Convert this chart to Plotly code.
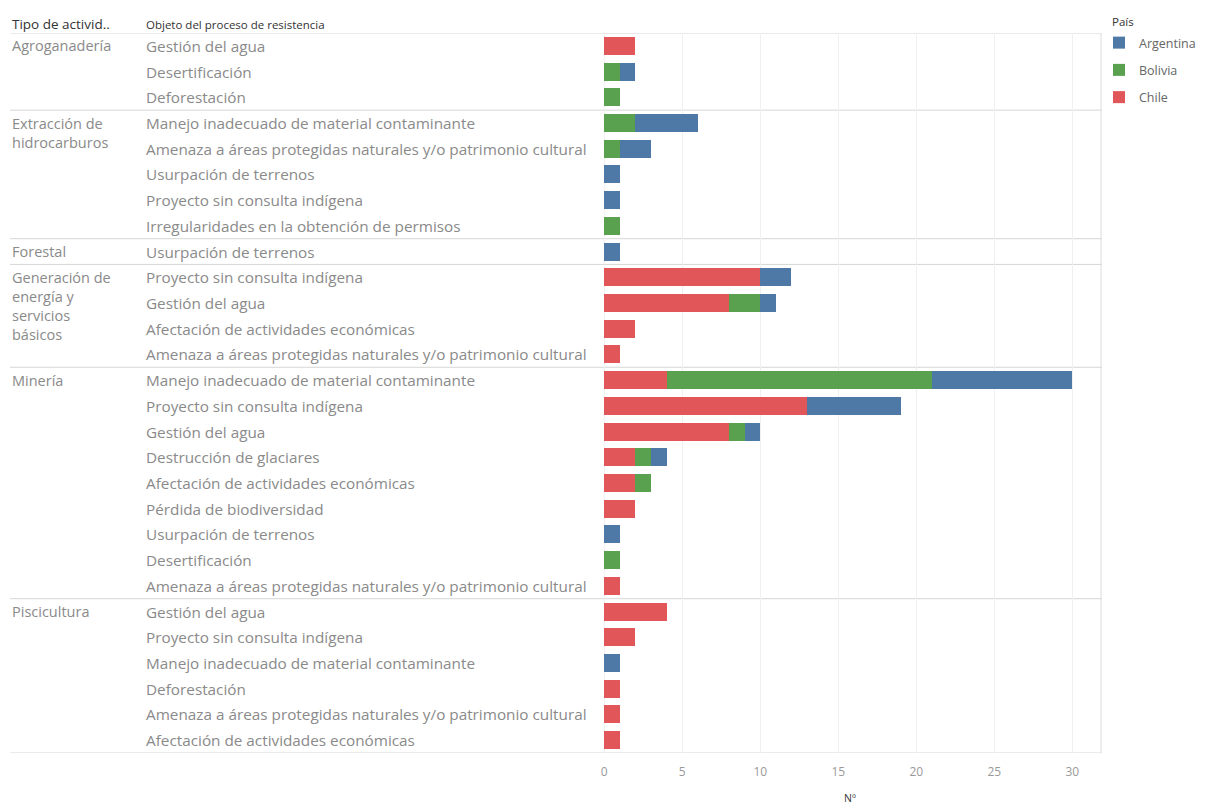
import plotly.graph_objects as go

# ---------------- data ----------------
groups = ["Agroganadería", "Extracción de hidrocarburos", "Forestal",
          "Generación de energía y servicios básicos", "Minería", "Piscicultura"]
group_lines = [["Agroganadería"], ["Extracción de", "hidrocarburos"], ["Forestal"],
               ["Generación de", "energía y", "servicios", "básicos"], ["Minería"], ["Piscicultura"]]
group_sizes = [3, 5, 1, 4, 9, 6]

objetos = [
    "Gestión del agua", "Desertificación", "Deforestación",
    "Manejo inadecuado de material contaminante",
    "Amenaza a áreas protegidas naturales y/o patrimonio cultural",
    "Usurpación de terrenos", "Proyecto sin consulta indígena",
    "Irregularidades en la obtención de permisos",
    "Usurpación de terrenos",
    "Proyecto sin consulta indígena", "Gestión del agua",
    "Afectación de actividades económicas",
    "Amenaza a áreas protegidas naturales y/o patrimonio cultural",
    "Manejo inadecuado de material contaminante", "Proyecto sin consulta indígena",
    "Gestión del agua", "Destrucción de glaciares", "Afectación de actividades económicas",
    "Pérdida de biodiversidad", "Usurpación de terrenos", "Desertificación",
    "Amenaza a áreas protegidas naturales y/o patrimonio cultural",
    "Gestión del agua", "Proyecto sin consulta indígena",
    "Manejo inadecuado de material contaminante", "Deforestación",
    "Amenaza a áreas protegidas naturales y/o patrimonio cultural",
    "Afectación de actividades económicas",
]

chile = [2, 0, 0,
         0, 0, 0, 0, 0,
         0,
         10, 8, 2, 1,
         4, 13, 8, 2, 2, 2, 0, 0, 1,
         4, 2, 0, 1, 1, 1]
bolivia = [0, 1, 1,
           2, 1, 0, 0, 1,
           0,
           0, 2, 0, 0,
           17, 0, 1, 1, 1, 0, 0, 1, 0,
           0, 0, 0, 0, 0, 0]
argentina = [0, 1, 0,
             4, 2, 1, 1, 0,
             1,
             2, 1, 0, 0,
             9, 6, 1, 1, 0, 0, 1, 0, 0,
             0, 0, 1, 0, 0, 0]

x_ticks = [0, 5, 10, 15, 20, 25, 30]
countries = ["Chile", "Bolivia", "Argentina"]
legend_rank = {"Argentina": 1, "Bolivia": 2, "Chile": 3}
colors = {"Argentina": "#4e79a7", "Bolivia": "#59a14f", "Chile": "#e15759"}

# ---------------- figure ----------------
W, H = 1219, 805
L, R, T, B = 598, 117, 33, 52
pw = W - L - R
ph = H - T - B

def px_x(p):
    return (p - L) / pw

def px_y(p):
    return 1 - (p - T) / ph

rows = list(range(len(objetos)))
series = {"Chile": chile, "Bolivia": bolivia, "Argentina": argentina}

fig = go.Figure()
for c in countries:
    vals = series[c]
    fig.add_trace(go.Bar(
        x=[v if v > 0 else None for v in vals], y=rows, orientation="h",
        name=c, marker=dict(color=colors[c], line=dict(width=0)),
        width=0.7, legendgroup=c, legendrank=legend_rank[c],
    ))

label_font = dict(family="Open Sans, sans-serif", size=15.3, color="#8a8a8a")
group_font = dict(family="Open Sans, sans-serif", size=14.5, color="#8a8a8a")
head_font = dict(family="Open Sans, sans-serif", size=11.5, color="#333333")

ann = []
# header row
ann.append(dict(text="Tipo de activid..", x=px_x(10), y=px_y(24), xref="paper", yref="paper",
                xanchor="left", yanchor="middle", showarrow=False,
                font=dict(family="Open Sans, sans-serif", size=13.5, color="#333333")))
ann.append(dict(text="Objeto del proceso de resistencia", x=px_x(144), y=px_y(24), xref="paper",
                yref="paper", xanchor="left", yanchor="middle", showarrow=False, font=head_font))
# sub-category labels
for i, o in enumerate(objetos):
    ann.append(dict(text=o, x=px_x(144), y=i, xref="paper", yref="y", xanchor="left",
                    yanchor="middle", showarrow=False, font=label_font))
# group labels + separators
shapes = []
start = 0
bounds = [-0.5]
for g, lines, n in zip(groups, group_lines, group_sizes):
    for k, ln in enumerate(lines):
        ann.append(dict(text=ln, x=px_x(10), y=start, xref="paper", yref="y", xanchor="left",
                        yanchor="middle", showarrow=False, font=group_font, yshift=-19 * k))
    start += n
    bounds.append(start - 0.5)

for b in bounds:
    shapes.append(dict(type="line", xref="paper", yref="y", x0=px_x(10), x1=px_x(1102),
                       y0=b, y1=b, line=dict(color="#d6d6d6", width=1), layer="below"))
shapes.append(dict(type="line", xref="paper", yref="y", x0=px_x(1101), x1=px_x(1101),
                   y0=-0.5, y1=len(objetos) - 0.5, line=dict(color="#dcdcdc", width=1)))

# legend title
ann.append(dict(text="País", x=px_x(1110), y=px_y(21), xref="paper", yref="paper",
                xanchor="left", yanchor="middle", showarrow=False, font=head_font))

# axis title
ann.append(dict(text="Nº", x=0.5, y=px_y(798), xref="paper", yref="paper", xanchor="center",
                yanchor="middle", showarrow=False,
                font=dict(family="Open Sans, sans-serif", size=10.5, color="#333333")))

fig.update_layout(
    width=W, height=H,
    margin=dict(l=L, r=R, t=T, b=B, pad=0),
    barmode="stack",
    plot_bgcolor="white", paper_bgcolor="white",
    font=dict(family="Open Sans, sans-serif"),
    xaxis=dict(range=[-0.4, 31.9], tickvals=x_ticks, ticktext=[str(t) for t in x_ticks],
               showgrid=True, gridcolor="#f0f0f0", gridwidth=1, zeroline=False,
               showline=False, ticks="", ticklabelstandoff=10,
               tickfont=dict(family="Open Sans, sans-serif", size=12, color="#9a9a9a")),
    yaxis=dict(range=[len(objetos) - 0.5, -0.5], showticklabels=False, showgrid=False,
               zeroline=False, showline=False, ticks=""),
    legend=dict(x=px_x(1099), y=px_y(28), xanchor="left", yanchor="top",
                traceorder="grouped", tracegroupgap=8,
                font=dict(family="Open Sans, sans-serif", size=12.5, color="#666666"),
                itemwidth=30, bgcolor="rgba(0,0,0,0)"),
    annotations=ann, shapes=shapes, bargap=0.3,
)

fig.write_html("out.html")
